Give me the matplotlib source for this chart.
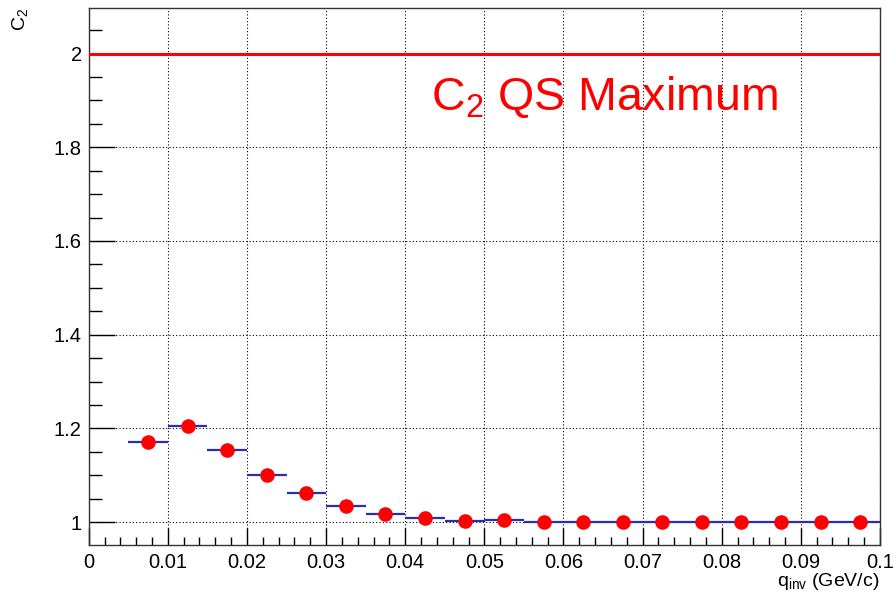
import numpy as np
import matplotlib
matplotlib.use("Agg")
import matplotlib.pyplot as plt
from matplotlib.ticker import MultipleLocator

plt.rcParams['font.family'] = ['Liberation Sans', 'DejaVu Sans']
plt.rcParams['mathtext.default'] = 'regular'

# bin edges and C2 values
bin_lo = [0.005, 0.010, 0.015, 0.020, 0.025, 0.030, 0.035, 0.040, 0.045, 0.050,
          0.055, 0.060, 0.065, 0.070, 0.075, 0.080, 0.085, 0.090, 0.095]
c2 = [1.171, 1.205, 1.153, 1.101, 1.062, 1.034, 1.018, 1.009, 1.003, 1.004,
      1.001, 1.000, 1.000, 1.000, 1.000, 1.000, 1.000, 1.000, 1.000]
bin_w = 0.005
qs_max = 2.0

x_lo = np.array(bin_lo)
x_mid = x_lo + bin_w / 2
y = np.array(c2)

fig = plt.figure(figsize=(8.95, 5.98), dpi=100)
ax = fig.add_axes([0.0991, 0.0886, 0.8841, 0.8985])

# histogram bins as blue horizontal bars
ax.hlines(y, x_lo, x_lo + bin_w, colors='#2a2db5', linewidth=1.6, zorder=3)
ax.plot(x_mid, y, 'o', color='#ff0000', markersize=10.5, markeredgewidth=0, zorder=4)

# quantum statistics maximum
ax.plot([0, 0.1], [qs_max, qs_max], color='#ff0000', linewidth=2.2, zorder=3)
ax.text(0.0433, 1.879, r'C$_2$ QS Maximum', color='#ff0000', fontsize=33.5,
        ha='left', va='baseline')

ax.set_xlim(0, 0.1)
ax.set_ylim(0.951, 2.098)

ax.xaxis.set_major_locator(MultipleLocator(0.01))
ax.xaxis.set_minor_locator(MultipleLocator(0.002))
ax.yaxis.set_major_locator(MultipleLocator(0.2))
ax.yaxis.set_minor_locator(MultipleLocator(0.05))
ax.set_xticks(np.arange(0, 0.101, 0.01))
ax.set_xticklabels(['0', '0.01', '0.02', '0.03', '0.04', '0.05', '0.06', '0.07',
                    '0.08', '0.09', '0.1'])
ax.set_yticks([1.0, 1.2, 1.4, 1.6, 1.8, 2.0])
ax.set_yticklabels(['1', '1.2', '1.4', '1.6', '1.8', '2'])

ax.tick_params(axis='x', which='major', direction='in', length=12, width=1,
               labelsize=14.5, pad=6, top=False)
ax.tick_params(axis='x', which='minor', direction='in', length=6, width=1, top=False)
ax.tick_params(axis='y', which='major', direction='in', length=19, width=1,
               labelsize=14.5, pad=5, right=False)
ax.tick_params(axis='y', which='minor', direction='in', length=9, width=1, right=False)

ax.grid(True, which='major', linestyle=(0, (1, 2)), color='black', linewidth=0.8)
for s in ax.spines.values():
    s.set_linewidth(1.0)
    s.set_color('#333333')

fig.text(0.983, 0.027, r'q$_{inv}$ (GeV/c)', fontsize=14, ha='right', va='center')
fig.text(0.011, 0.987, r'C$_2$', fontsize=14, rotation=90, ha='left', va='top')

fig.savefig('out.png', dpi=100)
